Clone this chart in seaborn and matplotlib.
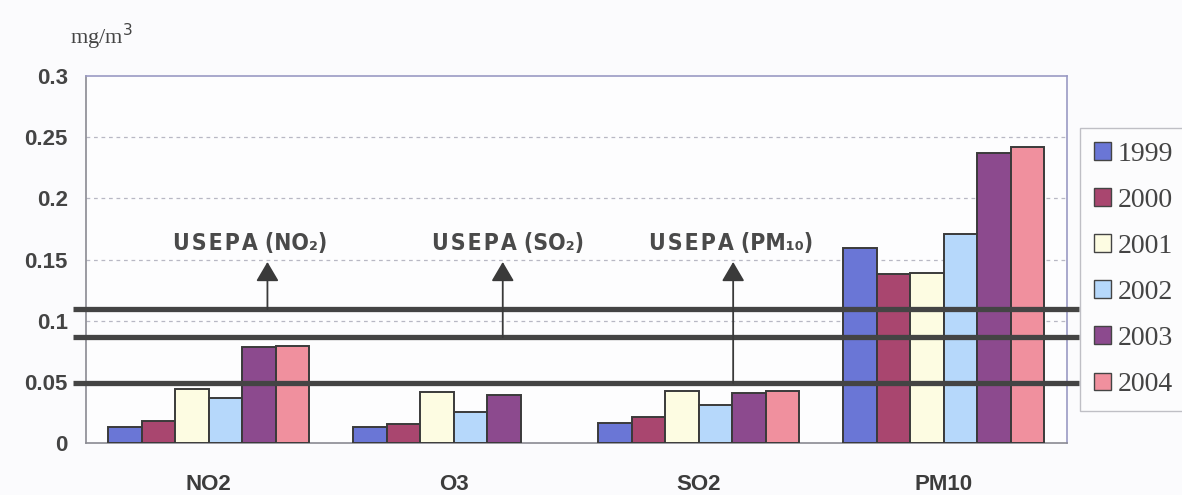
import numpy as np
import pandas as pd
import matplotlib
matplotlib.use('Agg')
import matplotlib.pyplot as plt
import matplotlib.transforms as mtransforms
from matplotlib.patches import Patch
import seaborn as sns

# data (mg/m3)
pollutants = ['NO2', 'O3', 'SO2', 'PM10']
years = ['1999', '2000', '2001', '2002', '2003', '2004']
v1999 = [0.013, 0.013, 0.016, 0.159]
v2000 = [0.018, 0.0155, 0.021, 0.138]
v2001 = [0.044, 0.042, 0.0425, 0.139]
v2002 = [0.037, 0.025, 0.031, 0.171]
v2003 = [0.0785, 0.039, 0.041, 0.237]
v2004 = [0.079, np.nan, 0.0425, 0.242]
year_colors = ['#6a76d6', '#a9466f', '#fdfce2', '#b6d8fb', '#8c4a8e', '#f0909e']

# USEPA limit lines and their labels
limit_names = ['USEPA (NO₂)', 'USEPA (SO₂)', 'USEPA (PM₁₀)']
limit_values = [0.1095, 0.0865, 0.049]

series = [v1999, v2000, v2001, v2002, v2003, v2004]
rows = []
for yr, vals in zip(years, series):
    for p, v in zip(pollutants, vals):
        rows.append({'pollutant': p, 'year': yr, 'value': v})
df = pd.DataFrame(rows)

sns.set_style('white')
plt.rcParams['font.family'] = ['Liberation Sans', 'DejaVu Sans']

fig = plt.figure(figsize=(11.82, 4.95), dpi=100, facecolor='#fbfbfd')
ax = fig.add_axes([0.0728, 0.105, 0.8295, 0.7415])
ax.set_facecolor('#fdfdfe')

sns.barplot(data=df, x='pollutant', y='value', hue='year', order=pollutants,
            hue_order=years, palette=year_colors, saturation=1, width=0.82,
            errorbar=None, edgecolor='#3a3a3a', linewidth=1.4, legend=False,
            ax=ax, zorder=3)

ax.set_ylim(0, 0.3)
ax.set_xlim(-0.5, 3.5)
ax.set_yticks([0, 0.05, 0.1, 0.15, 0.2, 0.25, 0.3])
ax.set_yticklabels(['0', '0.05', '0.1', '0.15', '0.2', '0.25', '0.3'])
for yv in [0.05, 0.1, 0.15, 0.2, 0.25]:
    ax.axhline(yv, color='#b8b8c4', lw=0.9, ls=(0, (3, 3)), zorder=1)

ax.set_xlabel('')
ax.set_ylabel('')
ax.set_xticks([0, 1, 2, 3])
ax.set_xticklabels(pollutants)
ax.set_xticks([0.5, 1.5, 2.5], minor=True)
ax.tick_params(axis='x', which='major', length=0, pad=22, labelsize=16,
               labelcolor='#3c3c3c')
ax.tick_params(axis='x', which='minor', length=6, color='#999999', direction='out')
ax.tick_params(axis='y', length=7, color='#999999', direction='out', pad=6,
               labelsize=16, labelcolor='#444444')
for lbl in ax.get_xticklabels() + ax.get_yticklabels():
    lbl.set_fontweight('bold')

for s in ['left', 'bottom']:
    ax.spines[s].set_color('#8a8a92')
    ax.spines[s].set_linewidth(1.2)
for s in ['top', 'right']:
    ax.spines[s].set_color('#9a9ac4')
    ax.spines[s].set_linewidth(1.2)

# thick limit lines, running a little past the axes on both sides
trans = mtransforms.blended_transform_factory(ax.transAxes, ax.transData)
for lv in limit_values:
    ax.plot([-0.013, 1.0125], [lv, lv], transform=trans, color='#444444',
            lw=3.8, solid_capstyle='butt', clip_on=False, zorder=5)

arrow_x = [0.24, 1.20, 2.14]
label_x = [0.17, 1.22, 2.13]
for name, lx, ax_x, lv in zip(limit_names, label_x, arrow_x, limit_values):
    ax.annotate('', xy=(ax_x, 0.148), xytext=(ax_x, lv),
                arrowprops=dict(arrowstyle='-|>,head_length=0.85,head_width=0.5',
                                mutation_scale=14, color='#3a3a3a', lw=1.3,
                                shrinkA=0, shrinkB=0), zorder=6)
    spaced = '\u200a'.join(name[:5]) + name[5:]
    ax.text(lx, 0.163, spaced, ha='center', va='center', fontsize=16.5,
            fontweight='bold', color='#4a4a4a', family=['DejaVu Sans'],
            fontstretch='condensed', zorder=6)

fig.text(0.059, 0.925, 'mg/m$^3$', fontsize=16, color='#444444',
         family='Liberation Serif', ha='left', va='center')

handles = [Patch(facecolor=c, edgecolor='#444444', lw=1.0) for c in year_colors]
leg = fig.legend(handles, years, loc='upper left', bbox_to_anchor=(0.9137, 0.742),
                 bbox_transform=fig.transFigure, frameon=True, fancybox=False,
                 prop={'family': 'Liberation Serif', 'size': 20},
                 handlelength=0.6, handleheight=0.6, handletextpad=0.25,
                 labelspacing=0.76, borderpad=0.5, borderaxespad=0)
leg.get_frame().set_edgecolor('#b0b0b8')
leg.get_frame().set_linewidth(1.0)
leg.get_frame().set_facecolor('#fdfdfe')
for t in leg.get_texts():
    t.set_color('#444444')

fig.savefig('out.png', dpi=100, facecolor=fig.get_facecolor())
